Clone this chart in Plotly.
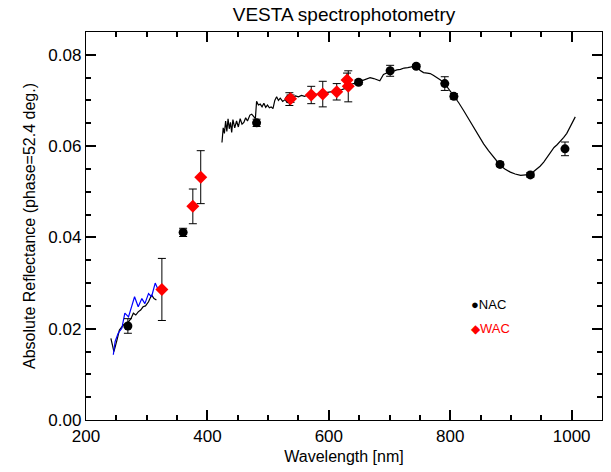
import plotly.graph_objects as go

# ---------------- data ----------------
uv_black_x = [241, 246, 251, 255, 261.5, 266, 270, 274, 278, 282, 286, 290, 294, 298, 303, 308, 312, 316]
uv_black_y = [0.0179, 0.0150, 0.0175, 0.0197, 0.0208, 0.0212, 0.0215, 0.0222, 0.0234, 0.0230, 0.0237, 0.0241,
              0.0248, 0.0250, 0.0259, 0.0274, 0.0266, 0.0263]

uv_blue_x = [245, 248, 253, 259, 264, 270, 275, 280, 286, 292, 297, 303, 308, 314, 318]
uv_blue_y = [0.0143, 0.0172, 0.0190, 0.0201, 0.0234, 0.0226, 0.0248, 0.0270, 0.0248, 0.0266, 0.0255, 0.0277,
             0.0270, 0.0300, 0.0288]

vis_x = [424, 426, 428, 430, 432, 434, 436, 438, 440, 442, 445, 448, 451, 454, 457, 460, 463, 466, 470, 473,
         476, 479, 481, 484, 487, 490, 493, 496, 499, 502, 505, 508, 511, 514, 517, 520, 524, 528, 532, 536,
         540, 545, 550, 555, 560, 566, 572, 578, 584, 590, 596, 602, 608, 614, 620, 626, 632, 638, 644, 650,
         656, 662, 668, 674, 680, 684, 690, 696, 702, 708, 712, 718, 724, 730, 736, 742, 746, 750, 756, 762,
         767, 772, 778, 784, 791, 798, 806, 814, 822, 830, 839, 847, 855, 863, 872, 878, 883, 890, 899, 907,
         916, 924, 932, 938, 943, 948, 954, 960, 966, 971, 976, 981, 987, 992, 998, 1002, 1006]
vis_y = [0.0608, 0.0640, 0.0628, 0.0655, 0.0632, 0.0660, 0.0638, 0.0652, 0.0630, 0.0658, 0.0640, 0.0655,
         0.0642, 0.0660, 0.0648, 0.0652, 0.0662, 0.0655, 0.0668, 0.0670, 0.0665, 0.0660, 0.0698, 0.0690,
         0.0692, 0.0686, 0.0694, 0.0685, 0.0690, 0.0684, 0.0686, 0.0682, 0.0700, 0.0708, 0.0700, 0.0705,
         0.0698, 0.0702, 0.0700, 0.0704, 0.0706, 0.0710, 0.0708, 0.0711, 0.0709, 0.0712, 0.0711, 0.0714,
         0.0713, 0.0716, 0.0717, 0.0719, 0.0720, 0.0722, 0.0723, 0.0726, 0.0732, 0.0736, 0.0738, 0.0741,
         0.0743, 0.0747, 0.0750, 0.0748, 0.0744, 0.0743, 0.0757, 0.0760, 0.0764, 0.0765, 0.0767, 0.0768,
         0.0771, 0.0772, 0.0774, 0.0776, 0.0776, 0.0766, 0.0761, 0.0760, 0.0759, 0.0755, 0.0750, 0.0745,
         0.0737, 0.0725, 0.0710, 0.0695, 0.0678, 0.0660, 0.0641, 0.0623, 0.0605, 0.0590, 0.0576, 0.0566,
         0.0557, 0.0550, 0.0543, 0.0539, 0.0536, 0.0537, 0.0537, 0.0545, 0.0550, 0.0556, 0.0565, 0.0576,
         0.0588, 0.0597, 0.0603, 0.0610, 0.0619, 0.0628, 0.0645, 0.0655, 0.0664]

nac_x = [269, 360, 481, 535, 649, 701, 744, 791, 806, 882, 932, 989]
nac_y = [0.0206, 0.0411, 0.0651, 0.0703, 0.0740, 0.0765, 0.0775, 0.0737, 0.0709, 0.0560, 0.0537, 0.0594]
nac_err = [0.0016, 0.0009, 0.0008, 0.0014, 0.0005, 0.0012, 0.0004, 0.0015, 0.0006, 0.0005, 0.0005, 0.0015]

wac_x = [325, 376, 389, 537, 571, 590, 613, 630, 632]
wac_y = [0.0286, 0.0468, 0.0532, 0.0704, 0.0712, 0.0714, 0.0719, 0.0745, 0.0731]
wac_err = [0.0068, 0.0038, 0.0058, 0.0008, 0.0019, 0.0028, 0.0018, 0.0015, 0.0034]

x_major = [200, 400, 600, 800, 1000]
y_major = [0.00, 0.02, 0.04, 0.06, 0.08]

FONT = "Liberation Sans, Arial, Helvetica, sans-serif"

fig = go.Figure()
fig.add_trace(go.Scatter(x=uv_black_x, y=uv_black_y, mode="lines",
                         line=dict(color="black", width=1.2), showlegend=False))
fig.add_trace(go.Scatter(x=uv_blue_x, y=uv_blue_y, mode="lines",
                         line=dict(color="#0000ff", width=1.2), showlegend=False))
fig.add_trace(go.Scatter(x=vis_x, y=vis_y, mode="lines",
                         line=dict(color="black", width=1.2), showlegend=False))
fig.add_trace(go.Scatter(x=nac_x, y=nac_y, mode="markers",
                         marker=dict(color="black", size=9, symbol="circle"),
                         error_y=dict(type="data", array=nac_err, color="black", thickness=1, width=4),
                         showlegend=False))
fig.add_trace(go.Scatter(x=wac_x, y=wac_y, mode="markers",
                         marker=dict(color="#ff0000", size=10, symbol="diamond"),
                         error_y=dict(type="data", array=wac_err, color="black", thickness=1, width=4),
                         showlegend=False))

fig.update_xaxes(range=[200, 1050], ticks="inside", ticklen=10, tickwidth=1.5, tickcolor="black",
                 showline=True, linecolor="black", linewidth=1.3, mirror="allticks",
                 showgrid=False, zeroline=False,
                 tickmode="array", tickvals=x_major, ticktext=[str(v) for v in x_major],
                 minor=dict(ticks="inside", ticklen=5, dtick=50, tick0=200, tickcolor="black",
                            tickwidth=1.5, showgrid=False),
                 tickfont=dict(family=FONT, size=17, color="black"),
                 title=dict(text="Wavelength [nm]", font=dict(family=FONT, size=16, color="black"), standoff=6))
fig.update_yaxes(range=[0, 0.085], ticks="inside", ticklen=10, tickwidth=1.5, tickcolor="black",
                 showline=True, linecolor="black", linewidth=1.3, mirror="allticks",
                 showgrid=False, zeroline=False,
                 tickmode="array", tickvals=y_major, ticktext=[f"{v:.2f}" for v in y_major],
                 minor=dict(ticks="inside", ticklen=5, dtick=0.005, tick0=0, tickcolor="black",
                            tickwidth=1.5, showgrid=False),
                 tickfont=dict(family=FONT, size=17, color="black"),
                 title=dict(text="Absolute Reflectance (phase=52.4 deg.)",
                            font=dict(family=FONT, size=16, color="black"), standoff=8))

fig.add_annotation(x=831, y=0.0252, xref="x", yref="y", xanchor="left", yanchor="middle",
                   text="<span style='font-size:13px'>●</span>NAC", showarrow=False,
                   font=dict(family=FONT, size=13, color="black"))
fig.add_annotation(x=831, y=0.0200, xref="x", yref="y", xanchor="left", yanchor="middle",
                   text="<span style='font-size:12px'>◆</span>WAC", showarrow=False,
                   font=dict(family=FONT, size=13, color="#ff0000"))

fig.update_layout(
    width=611, height=472,
    margin=dict(l=86, r=9, t=32, b=52),
    paper_bgcolor="white", plot_bgcolor="white",
    title=dict(text="VESTA spectrophotometry", x=0.5, xref="paper", xanchor="center",
               y=1 - 14 / 472, yref="container", yanchor="middle",
               font=dict(family=FONT, size=19, color="black")),
    showlegend=False,
)

fig.write_html("out.html", config={"displayModeBar": False},
               post_script="document.body.style.margin='0';")
